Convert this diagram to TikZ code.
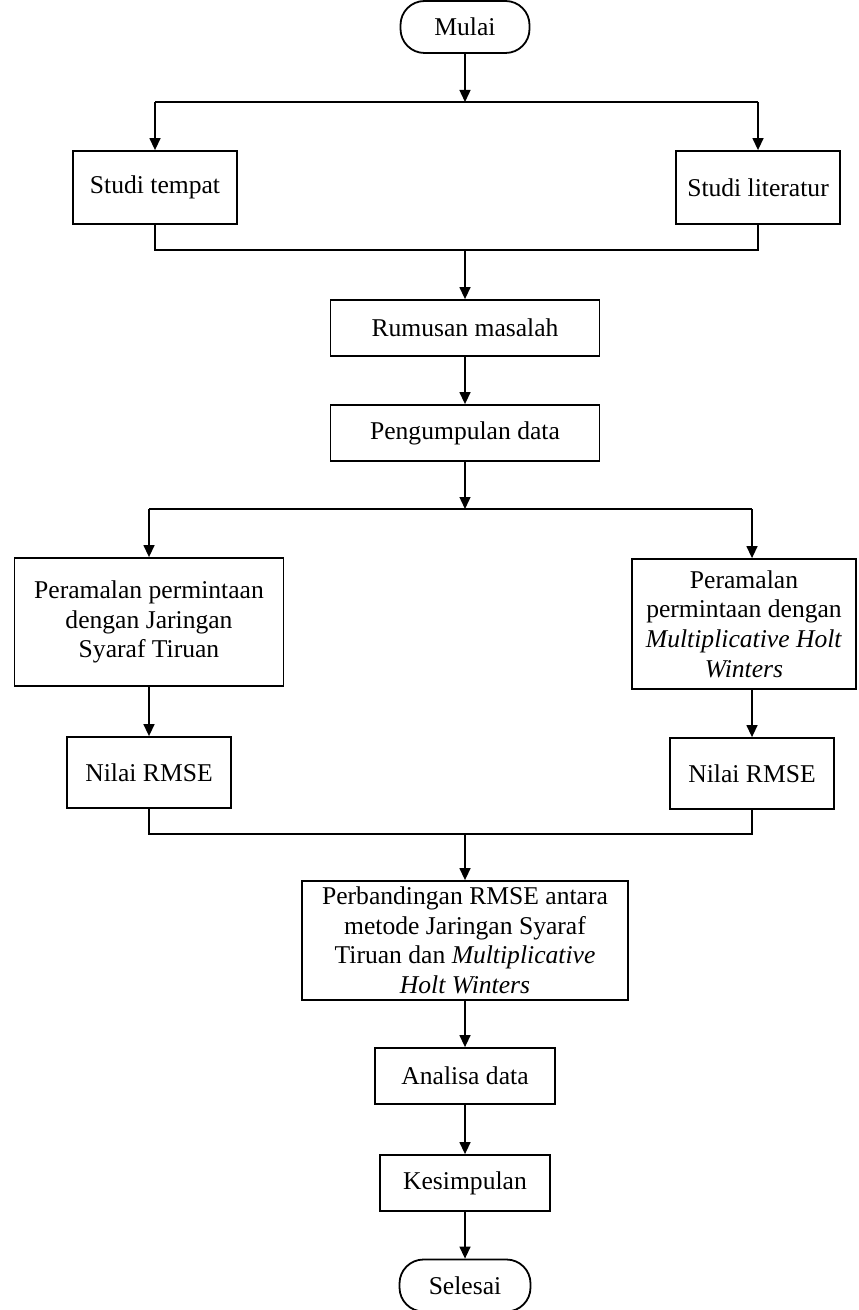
\documentclass[tikz,border=0pt]{standalone}
\usepackage{fontspec}
\setmainfont{Liberation Serif}
\usetikzlibrary{arrows.meta,positioning}

\begin{document}
\begin{tikzpicture}[x=0.5pt,y=-0.5pt,
        proses/.style={draw,rectangle,line width=0.9pt,align=center,inner sep=0pt,
            font=\fontsize{12.8}{14.8}\selectfont},
        terminal/.style={proses,rounded corners=12pt,minimum width=64.5pt,minimum height=26pt},
        panah/.style={-{Triangle[width=5.5pt,length=6pt]},line width=0.7pt},
        garis/.style={line width=0.7pt}
    ]
        \useasboundingbox (0,0) rectangle (858,1310);
        % Node utama
        \node[terminal] (mulai) at (465,27) {Mulai};
        \node[proses,minimum width=82pt,minimum height=36.5pt] (tempat) at (155,187.5) {Studi tempat};
        \node[proses,minimum width=82pt,minimum height=36.5pt] (literatur) at (758,187.5) {Studi literatur};
        \node[proses,minimum width=134.5pt,minimum height=28pt] (rumusan) at (465,328) {Rumusan masalah};
        \node[proses,minimum width=134.5pt,minimum height=28pt] (pengumpulan) at (465,433) {Pengumpulan data};
        \node[proses,minimum width=134.5pt,minimum height=64pt] (jst) at (149,622)
            {Peramalan permintaan\\dengan Jaringan\\Syaraf Tiruan};
        \node[proses,minimum width=112pt,minimum height=65pt] (hw) at (744,624)
            {Peramalan\\permintaan dengan\\\textit{Multiplicative Holt}\\\textit{Winters}};
        \node[proses,minimum width=82pt,minimum height=35.5pt] (nilaijst) at (149,772.5) {Nilai RMSE};
        \node[proses,minimum width=82pt,minimum height=35.5pt] (nilaihw) at (752,773.5) {Nilai RMSE};
        \node[proses,minimum width=163pt,minimum height=59.5pt] (banding) at (465,940.5)
            {Perbandingan RMSE antara\\metode Jaringan Syaraf\\Tiruan dan \textit{Multiplicative}\\\textit{Holt Winters}};
        \node[proses,minimum width=90pt,minimum height=28pt] (analisa) at (465,1076) {Analisa data};
        \node[proses,minimum width=85pt,minimum height=28pt] (kesimpulan) at (465,1183) {Kesimpulan};
        \node[terminal,minimum width=65.5pt] (selesai) at (465,1285.5) {Selesai};
        % Cabang dan gabungan
        \coordinate (cabang1) at (465,102);
        \coordinate (gabung1) at (465,250);
        \coordinate (cabang2) at (465,509);
        \coordinate (gabung2) at (465,834);
        \draw[panah] (mulai) -- (cabang1);
        \draw[garis] (tempat.north |- cabang1) -- (literatur.north |- cabang1);
        \draw[panah] (tempat.north |- cabang1) -- (tempat);
        \draw[panah] (literatur.north |- cabang1) -- (literatur);
        \draw[garis] (tempat) -- (tempat.south |- gabung1) -- (literatur.south |- gabung1) -- (literatur);
        \draw[panah] (gabung1) -- (rumusan);
        \draw[panah] (rumusan) -- (pengumpulan);
        \draw[panah] (pengumpulan) -- (cabang2);
        \draw[garis] (jst.north |- cabang2) -- (nilaihw.north |- cabang2);
        \draw[panah] (jst.north |- cabang2) -- (jst);
        \draw[panah] (nilaihw.north |- cabang2) -- (nilaihw.north |- hw.north);
        \draw[panah] (jst) -- (nilaijst);
        \draw[panah] (nilaihw.north |- hw.south) -- (nilaihw);
        \draw[garis] (nilaijst) -- (nilaijst.south |- gabung2) -- (nilaihw.south |- gabung2) -- (nilaihw);
        \draw[panah] (gabung2) -- (banding);
        \draw[panah] (banding) -- (analisa);
        \draw[panah] (analisa) -- (kesimpulan);
        \draw[panah] (kesimpulan) -- (selesai);
    \end{tikzpicture}
\end{document}
